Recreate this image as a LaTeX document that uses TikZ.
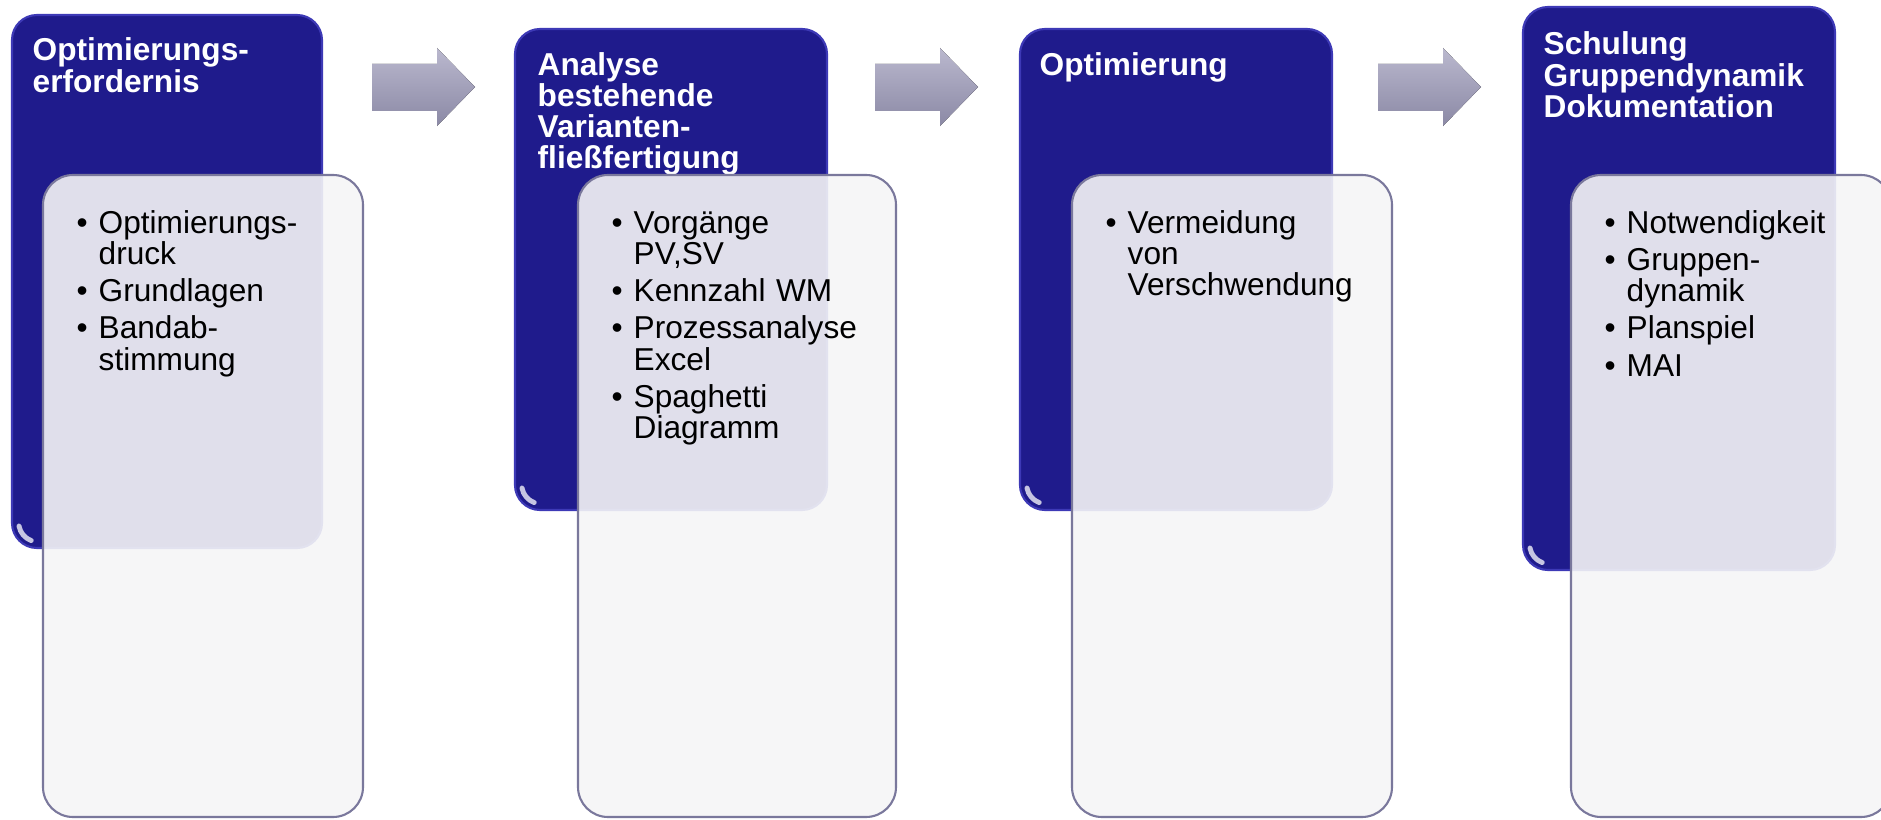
\documentclass[tikz,border=0pt]{standalone}
\usepackage{fontspec}
\setmainfont{Liberation Sans}
\usepackage{xcolor}
\definecolor{cardblue}{HTML}{1F1B8C}
\definecolor{cardrim}{HTML}{3D39B6}
\definecolor{paper}{HTML}{F5F5F6}
\definecolor{paperrim}{HTML}{7A789C}
\definecolor{arrowtop}{HTML}{BAB8CE}
\definecolor{arrowbot}{HTML}{8B89A5}

% one bullet line with hanging indent (break lines with \newline)
\newcommand{\bpt}[1]{\hangindent=0.22cm\hangafter=1\noindent\makebox[0.22cm][l]{\textbullet}#1\par}
\newcommand{\bgap}{\vspace{0.06cm}}

\tikzset{
    darkcard/.style={fill=cardblue, draw=cardrim, line width=0.6pt, rounded corners=0.25cm},
    gloss/.style={draw=white, opacity=0.75, line width=1.4pt, line cap=round},
    lightcard/.style={fill=paper, fill opacity=0.9, draw=paperrim, line width=0.6pt, rounded corners=0.3cm},
    procarrow/.style={top color=arrowtop, bottom color=arrowbot, draw=none},
    cardtitle/.style={anchor=base west, inner sep=0pt, text=white, text width=3cm, align=left,
        font=\fontsize{9}{8.9}\selectfont\bfseries},
    cardbody/.style={anchor=base west, inner sep=0pt, text=black, text width=2.9cm, align=left,
        font=\fontsize{9}{8.9}\selectfont}
}

\begin{document}
\begin{tikzpicture}
        \useasboundingbox (0,0) rectangle (18.81,8.19);
        \clip (0,0) rectangle (18.81,8.19);

        % arrows between the stages
        \fill[procarrow] (3.72,7.08) -- (4.37,7.08) -- (4.37,6.93) -- (4.75,7.32)
            -- (4.37,7.71) -- (4.37,7.55) -- (3.72,7.55) -- cycle;
        \fill[procarrow] (8.75,7.08) -- (9.40,7.08) -- (9.40,6.93) -- (9.78,7.32)
            -- (9.40,7.71) -- (9.40,7.55) -- (8.75,7.55) -- cycle;
        \fill[procarrow] (13.78,7.08) -- (14.43,7.08) -- (14.43,6.93) -- (14.81,7.32)
            -- (14.43,7.71) -- (14.43,7.55) -- (13.78,7.55) -- cycle;

        % stage 1
        \filldraw[darkcard] (0.12,2.71) rectangle (3.22,8.04);
        \draw[gloss] (0.19,2.93) arc (190:250:0.19);
        \node[cardtitle] (need) at (0.32,7.58) {
            Optimierungs-\\erfordernis
        };
        \filldraw[lightcard] (0.43,0.02) rectangle (3.63,6.44);
        \node[cardbody] (needlist) at (0.76,5.86) {
            \bpt{Optimierungs-\newline druck}\bgap
            \bpt{Grundlagen}\bgap
            \bpt{Bandab-\newline stimmung}
        };

        % stage 2
        \filldraw[darkcard] (5.15,3.09) rectangle (8.27,7.90);
        \draw[gloss] (5.22,3.31) arc (190:250:0.19);
        \node[cardtitle] (analysis) at (5.37,7.44) {
            Analyse\\bestehende\\Varianten-\\fließfertigung
        };
        \filldraw[lightcard] (5.78,0.02) rectangle (8.96,6.44);
        \node[cardbody] (analysislist) at (6.11,5.86) {
            \bpt{Vorgänge\newline PV,SV}\bgap
            \bpt{Kennzahl WM}\bgap
            \bpt{Prozessanalyse\newline Excel}\bgap
            \bpt{Spaghetti\newline Diagramm}
        };

        % stage 3
        \filldraw[darkcard] (10.20,3.09) rectangle (13.32,7.90);
        \draw[gloss] (10.27,3.31) arc (190:250:0.19);
        \node[cardtitle] (optim) at (10.39,7.44) {
            Optimierung
        };
        \filldraw[lightcard] (10.72,0.02) rectangle (13.92,6.44);
        \node[cardbody] (optimlist) at (11.05,5.86) {
            \bpt{Vermeidung\newline von\newline Verschwendung}
        };

        % stage 4
        \filldraw[darkcard] (15.23,2.49) rectangle (18.35,8.12);
        \draw[gloss] (15.30,2.71) arc (190:250:0.19);
        \node[cardtitle] (training) at (15.43,7.64) {
            Schulung\\Gruppendynamik\\Dokumentation
        };
        \filldraw[lightcard] (15.71,0.02) rectangle (18.91,6.44);
        \node[cardbody] (traininglist) at (16.04,5.86) {
            \bpt{Notwendigkeit}\bgap
            \bpt{Gruppen-\newline dynamik}\bgap
            \bpt{Planspiel}\bgap
            \bpt{MAI}
        };
\end{tikzpicture}
\end{document}
